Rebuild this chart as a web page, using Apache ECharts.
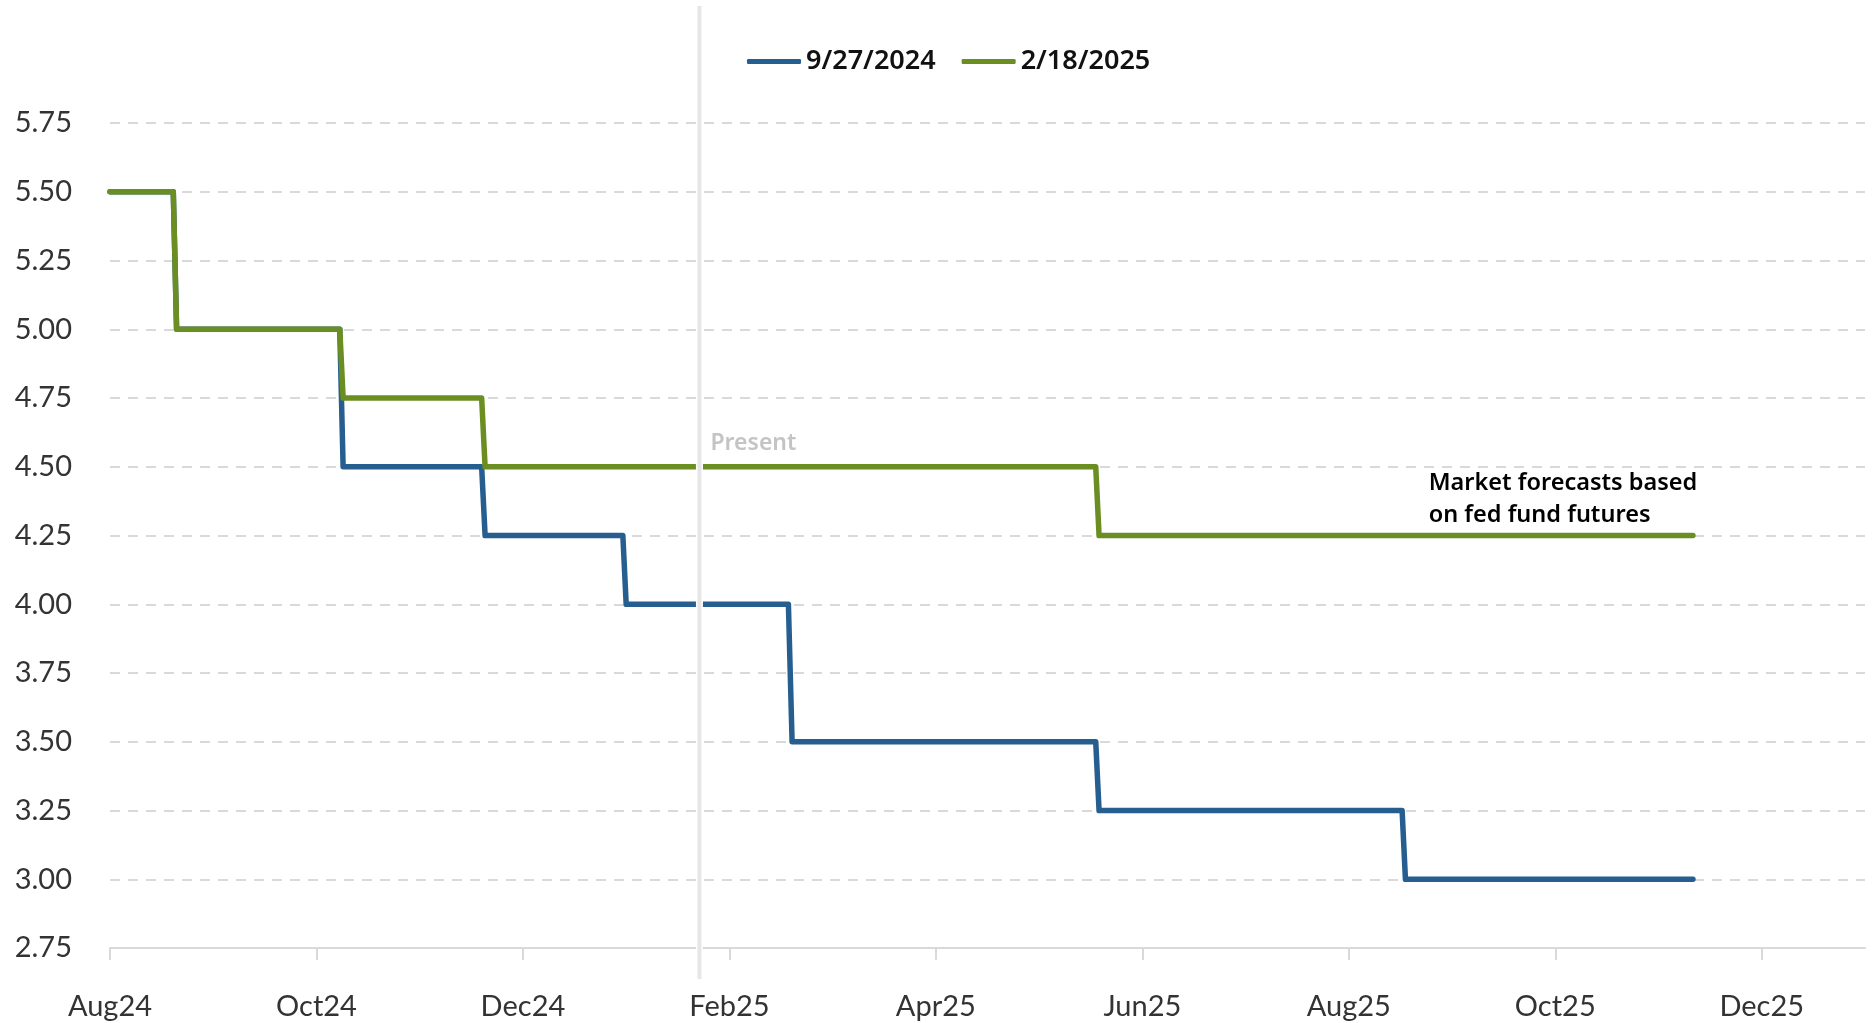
<!DOCTYPE html>
<html>
<head>
    <meta charset="utf-8">
    <title>Fed funds rate expectations</title>
    <script src="https://cdn.jsdelivr.net/npm/echarts@6/dist/echarts.min.js"></script>
    <style>
        html, body { margin: 0; padding: 0; background: #fff; }
        #chart { width: 1872px; height: 1023px; }
    </style>
</head>
<body>
    <div id="chart"></div>
    <script type="text/javascript">
        // tick labels along the bottom, one every two months from Aug 2024
        var xTickLabels = ['Aug24', 'Oct24', 'Dec24', 'Feb25', 'Apr25', 'Jun25', 'Aug25', 'Oct25', 'Dec25'];

        // 9/27/2024 market path
        var blueName = '9/27/2024';
        var blueDates = ['2024-08-01', '2024-08-20', '2024-08-21', '2024-10-08', '2024-10-09',
            '2024-11-19', '2024-11-20', '2024-12-31', '2025-01-01', '2025-02-17', '2025-02-18',
            '2025-05-18', '2025-05-19', '2025-08-17', '2025-08-18', '2025-11-11'];
        var blueRates = [5.50, 5.50, 5.00, 5.00, 4.50, 4.50, 4.25, 4.25, 4.00, 4.00, 3.50,
            3.50, 3.25, 3.25, 3.00, 3.00];

        // 2/18/2025 market path
        var greenName = '2/18/2025';
        var greenDates = ['2024-08-01', '2024-08-20', '2024-08-21', '2024-10-08', '2024-10-09',
            '2024-11-19', '2024-11-20', '2025-05-18', '2025-05-19', '2025-11-11'];
        var greenRates = [5.50, 5.50, 5.00, 5.00, 4.75, 4.75, 4.50, 4.50, 4.25, 4.25];

        var presentDate = '2025-01-23';
        var noteDate = '2025-08-25';
        var noteText = 'Market forecasts based\non fed fund futures';

        // month position counted from Aug 2024 (months drawn the same width)
        function toM(d) {
            var p = d.split('-').map(Number);
            var dim = new Date(p[0], p[1], 0).getDate();
            return (p[0] - 2024) * 12 + (p[1] - 8) + (p[2] - 1) / dim;
        }
        function pairs(dates, vals) {
            var out = [];
            for (var i = 0; i < dates.length; i++) {
                out.push([toM(dates[i]), vals[i]]);
            }
            return out;
        }
        var tickPos = xTickLabels.map(function (l, i) { return i * 2; });

        var labelFont = 'Lato, "Noto Sans", sans-serif';
        var boldFont = '"Noto Sans", Lato, sans-serif';

        var chart = echarts.init(document.getElementById('chart'));
        var option = {
            animation: false,
            backgroundColor: '#fff',
            legend: {
                data: [blueName, greenName],
                left: 742,
                top: 43,
                icon: 'roundRect',
                itemWidth: 54,
                itemHeight: 5,
                itemGap: 26,
                textStyle: { fontFamily: boldFont, fontWeight: 600, fontSize: 27, color: '#111' }
            },
            grid: [
                { left: 110, right: 7, top: 123, bottom: 75 },
                { left: 110, right: 7, top: 6, bottom: 44 }
            ],
            xAxis: [
                {
                    type: 'value', gridIndex: 0, min: 0, max: 17,
                    axisLine: { lineStyle: { color: '#d9d9d9', width: 2 } },
                    axisTick: { customValues: tickPos, length: 12, lineStyle: { color: '#d9d9d9', width: 2 } },
                    axisLabel: {
                        customValues: tickPos, margin: 44,
                        fontFamily: labelFont, fontSize: 29, color: '#333',
                        formatter: function (v) { return xTickLabels[Math.round(v / 2)]; }
                    },
                    splitLine: { show: false }
                },
                {
                    type: 'value', gridIndex: 1, min: 0, max: 17, show: false
                }
            ],
            yAxis: [
                {
                    type: 'value', gridIndex: 0, min: 2.75, max: 5.75, interval: 0.25,
                    axisLine: { show: false },
                    axisTick: { show: false },
                    axisLabel: {
                        margin: 38, fontFamily: labelFont, fontSize: 29, color: '#333',
                        formatter: function (v) { return v.toFixed(2); }
                    },
                    splitLine: { lineStyle: { color: '#d9d9d9', width: 2, type: [10, 8] } }
                },
                {
                    type: 'value', gridIndex: 1, min: 0, max: 1, show: false
                }
            ],
            series: [
                {
                    name: blueName, type: 'line', xAxisIndex: 0, yAxisIndex: 0,
                    data: pairs(blueDates, blueRates),
                    showSymbol: false, z: 3,
                    color: '#255e8f',
                    lineStyle: { width: 5.5, cap: 'round', join: 'round' }
                },
                {
                    name: greenName, type: 'line', xAxisIndex: 0, yAxisIndex: 0,
                    data: pairs(greenDates, greenRates),
                    showSymbol: false, z: 4,
                    color: '#6b8e23',
                    lineStyle: { width: 5.5, cap: 'round', join: 'round' },
                    markPoint: {
                        symbol: 'circle', symbolSize: 0, silent: true,
                        data: [
                            {
                                coord: [toM(presentDate), 4.5],
                                label: {
                                    show: true, formatter: 'Present', position: 'top',
                                    align: 'left', distance: 12, offset: [11, 0],
                                    fontFamily: boldFont, fontWeight: 600, fontSize: 23, color: '#c4c4c4'
                                }
                            },
                            {
                                coord: [toM(noteDate), 4.25],
                                label: {
                                    show: true, formatter: noteText, position: 'top',
                                    align: 'left', distance: 4, lineHeight: 32,
                                    fontFamily: boldFont, fontWeight: 600, fontSize: 23.5, color: '#000'
                                }
                            }
                        ]
                    }
                },
                {
                    name: 'present-gap', type: 'line', xAxisIndex: 1, yAxisIndex: 1,
                    data: [[toM(presentDate), 0], [toM(presentDate), 1]],
                    showSymbol: false, silent: true, z: 5,
                    lineStyle: { color: '#ffffff', width: 7 }
                },
                {
                    name: 'present', type: 'line', xAxisIndex: 1, yAxisIndex: 1,
                    data: [[toM(presentDate), 0], [toM(presentDate), 1]],
                    showSymbol: false, silent: true, z: 6,
                    lineStyle: { color: '#e6e6e6', width: 4 }
                }
            ]
        };
        chart.setOption(option);
    </script>
</body>
</html>
